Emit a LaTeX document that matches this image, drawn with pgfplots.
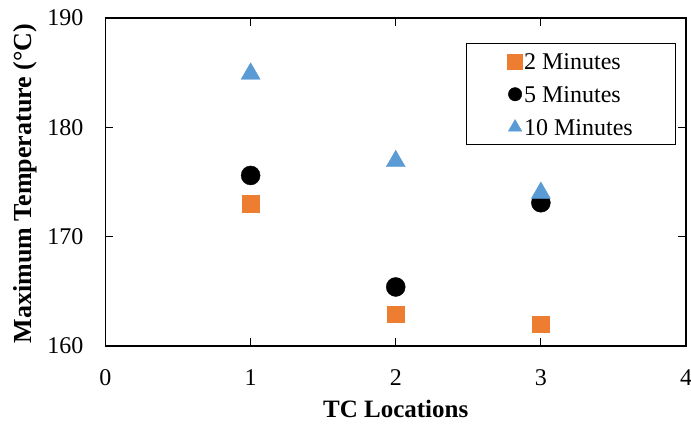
\documentclass[border=0pt]{standalone}
\usepackage{pgfplots}
\pgfplotsset{compat=1.18}
\usepackage{fontspec}
\setmainfont{Liberation Serif}

\definecolor{xlorange}{HTML}{ED7D31}
\definecolor{xlblue}{HTML}{5B9BD5}

\begin{document}
\begin{tikzpicture}
\begin{axis}[
  at={(0,0)}, anchor=south west,
  scale only axis,
  width=580.5bp, height=328bp,
  xmin=0, xmax=4, ymin=160, ymax=190,
  xtick={0,1,2,3,4}, ytick={160,170,180,190},
  axis line style={line width=1.5bp, black},
  tick style={line width=1.2bp, black},
  tick align=inside,
  major tick length=8bp,
  /pgf/number format/assume math mode=true,
  every tick label/.append style={inner sep=0pt, font=\fontsize{24bp}{28bp}\selectfont},
  xticklabel style={anchor=base, yshift=-39bp},
  yticklabel style={anchor=east, xshift=-22bp},
  xlabel={\textbf{TC Locations}},
  ylabel={\textbf{Maximum Temperature (°C)}},
  every axis x label/.style={at={(axis description cs:0.5,-0.2195)}, anchor=base,
    font=\fontsize{25bp}{30bp}\selectfont},
  every axis y label/.style={at={(axis description cs:-0.1378,0.495)}, rotate=90, anchor=center,
    font=\fontsize{26bp}{30bp}\selectfont},
  legend cell align=left,
  legend style={
    at={(0.9828,0.9238)}, anchor=north east,
    draw=black, line width=1.5bp,
    inner xsep=41bp, inner ysep=9bp,
    row sep=16bp, column sep=0pt,
    font=\fontsize{24bp}{28bp}\selectfont,
    nodes={inner xsep=1.5bp, inner ysep=0bp, text height=17bp, text depth=0bp},
  },
  legend image code/.code={\draw[#1, line width=0.4bp] plot coordinates {(0bp,0bp)};},
]
% 2-minute heating
\addplot[only marks, mark=square*, mark size=8.3bp, color=xlorange,
  legend image post style={mark size=7.5bp}]
  coordinates {(1,173.0) (2,162.9) (3,162.0)};
\addlegendentry{2 Minutes}
% 5-minute heating
\addplot[only marks, mark=*, mark size=9.5bp, color=black,
  legend image post style={mark size=6.7bp}]
  coordinates {(1,175.6) (2,165.4) (3,173.1)};
\addlegendentry{5 Minutes}
% 10-minute heating
\addplot[only marks, mark=triangle*, mark size=11bp, color=xlblue,
  legend image post style={mark size=7.7bp}]
  coordinates {(1,184.9) (2,176.9) (3,174.0)};
\addlegendentry{10 Minutes}
\end{axis}
% page extent around the plot area
\pgfresetboundingbox
\path[use as bounding box] (-105.5bp,-81bp) rectangle (585.5bp,346bp);
\end{tikzpicture}
\end{document}
